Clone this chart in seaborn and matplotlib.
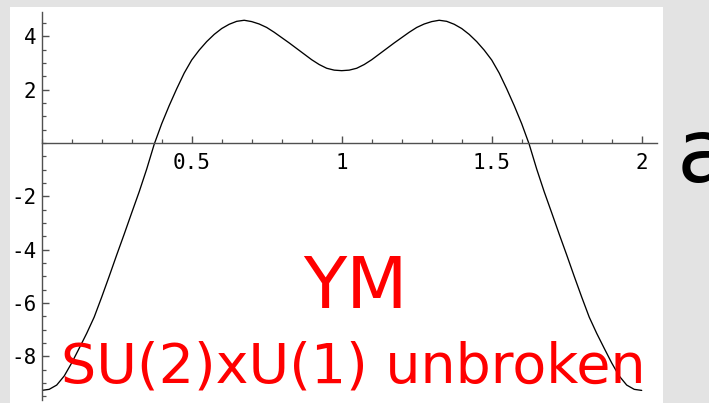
import matplotlib
matplotlib.use("Agg")
import matplotlib.pyplot as plt
import seaborn as sns
from matplotlib.patches import Rectangle
from matplotlib.ticker import FixedLocator, MultipleLocator

# Potential profile sampled along the field direction
x_vals = [0.000, 0.025, 0.050, 0.075, 0.100, 0.125, 0.150, 0.175, 0.200, 0.225,
          0.250, 0.275, 0.300, 0.325, 0.350, 0.375, 0.400, 0.425, 0.450, 0.475,
          0.500, 0.525, 0.550, 0.575, 0.600, 0.625, 0.650, 0.675, 0.700, 0.725,
          0.750, 0.775, 0.800, 0.825, 0.850, 0.875, 0.900, 0.925, 0.950, 0.975,
          1.000, 1.025, 1.050, 1.075, 1.100, 1.125, 1.150, 1.175, 1.200, 1.225,
          1.250, 1.275, 1.300, 1.325, 1.350, 1.375, 1.400, 1.425, 1.450, 1.475,
          1.500, 1.525, 1.550, 1.575, 1.600, 1.625, 1.650, 1.675, 1.700, 1.725,
          1.750, 1.775, 1.800, 1.825, 1.850, 1.875, 1.900, 1.925, 1.950, 1.975,
          2.000]
y_vals = [-9.28, -9.24, -9.08, -8.74, -8.25, -7.70, -7.14, -6.53, -5.78, -5.00,
          -4.20, -3.42, -2.62, -1.83, -0.98, -0.05, 0.72, 1.40, 2.03, 2.62,
          3.11, 3.48, 3.80, 4.07, 4.29, 4.45, 4.56, 4.60, 4.55, 4.46,
          4.33, 4.15, 3.95, 3.75, 3.54, 3.33, 3.12, 2.94, 2.80, 2.73,
          2.71, 2.73, 2.80, 2.94, 3.12, 3.33, 3.54, 3.75, 3.95, 4.15,
          4.33, 4.46, 4.55, 4.60, 4.56, 4.45, 4.29, 4.07, 3.80, 3.48,
          3.11, 2.62, 2.03, 1.40, 0.72, -0.05, -0.98, -1.83, -2.62, -3.42,
          -4.20, -5.00, -5.78, -6.53, -7.14, -7.70, -8.25, -8.74, -9.08, -9.24,
          -9.28]

x_ticks = [0.5, 1.0, 1.5, 2.0]
x_tick_labels = ["0.5", "1", "1.5", "2"]
y_ticks = [-8, -6, -4, -2, 2, 4]
y_tick_labels = ["-8", "-6", "-4", "-2", "2", "4"]

model_label = "YM"
phase_label = "SU(2)xU(1) unbroken"
side_label = "a"

sns.set_style("white")
plt.rcParams["font.family"] = ["DejaVu Sans"]
plt.rcParams["axes.unicode_minus"] = False

W, H = 709, 403
fig = plt.figure(figsize=(W / 100, H / 100), dpi=100)
fig.patch.set_facecolor("#e3e3e3")


def fx(px):
    return px / W


def fy(py):
    return 1 - py / H


# white panel behind the plot
fig.patches.append(Rectangle((fx(10), 0), fx(663) - fx(10), fy(7), transform=fig.transFigure,
                             facecolor="white", edgecolor="none", zorder=-5))

ax = fig.add_axes([fx(41.7), fy(400), fx(656.7) - fx(41.7), fy(12) - fy(400)])
ax.set_zorder(2)
ax.patch.set_alpha(0)

sns.lineplot(x=x_vals, y=y_vals, ax=ax, color="black", linewidth=0.95, sort=False,
             estimator=None, legend=False)

ax.set_xlim(0, 2.05)
ax.set_ylim(-9.64, 4.91)

for side in ("top", "right"):
    ax.spines[side].set_visible(False)
ax.spines["left"].set_position(("data", 0))
ax.spines["bottom"].set_position(("data", 0))
for side in ("left", "bottom"):
    ax.spines[side].set_color("#505050")
    ax.spines[side].set_linewidth(1.0)

ax.xaxis.set_major_locator(FixedLocator(x_ticks))
ax.set_xticklabels(x_tick_labels)
ax.xaxis.set_minor_locator(MultipleLocator(0.1))
ax.yaxis.set_major_locator(FixedLocator(y_ticks))
ax.set_yticklabels(y_tick_labels)
ax.yaxis.set_minor_locator(MultipleLocator(0.5))

ax.tick_params(axis="both", which="both", bottom=True, left=True, top=False, right=False)
ax.tick_params(axis="both", which="major", direction="in", length=5, width=1.0,
               color="#505050", labelsize=15, labelcolor="black")
ax.tick_params(axis="both", which="minor", direction="in", length=3.2, width=0.9,
               color="#505050")
ax.tick_params(axis="x", which="major", pad=7)
ax.tick_params(axis="y", which="major", pad=4)
for lab in ax.get_xticklabels() + ax.get_yticklabels():
    lab.set_family("DejaVu Sans Mono")
ax.set_xlabel("")
ax.set_ylabel("")

fig.text(fx(355), fy(288), model_label, color="red", fontsize=51, ha="center", va="center",
         family="DejaVu Sans", zorder=5)
fig.text(fx(353), fy(368), phase_label, color="red", fontsize=40, ha="center", va="center",
         family="DejaVu Sans", zorder=5)
fig.text(fx(677), fy(182), side_label, color="black", fontsize=64, ha="left", va="baseline",
         family="DejaVu Sans", zorder=5)

fig.savefig("out.png", dpi=100, facecolor=fig.get_facecolor())
